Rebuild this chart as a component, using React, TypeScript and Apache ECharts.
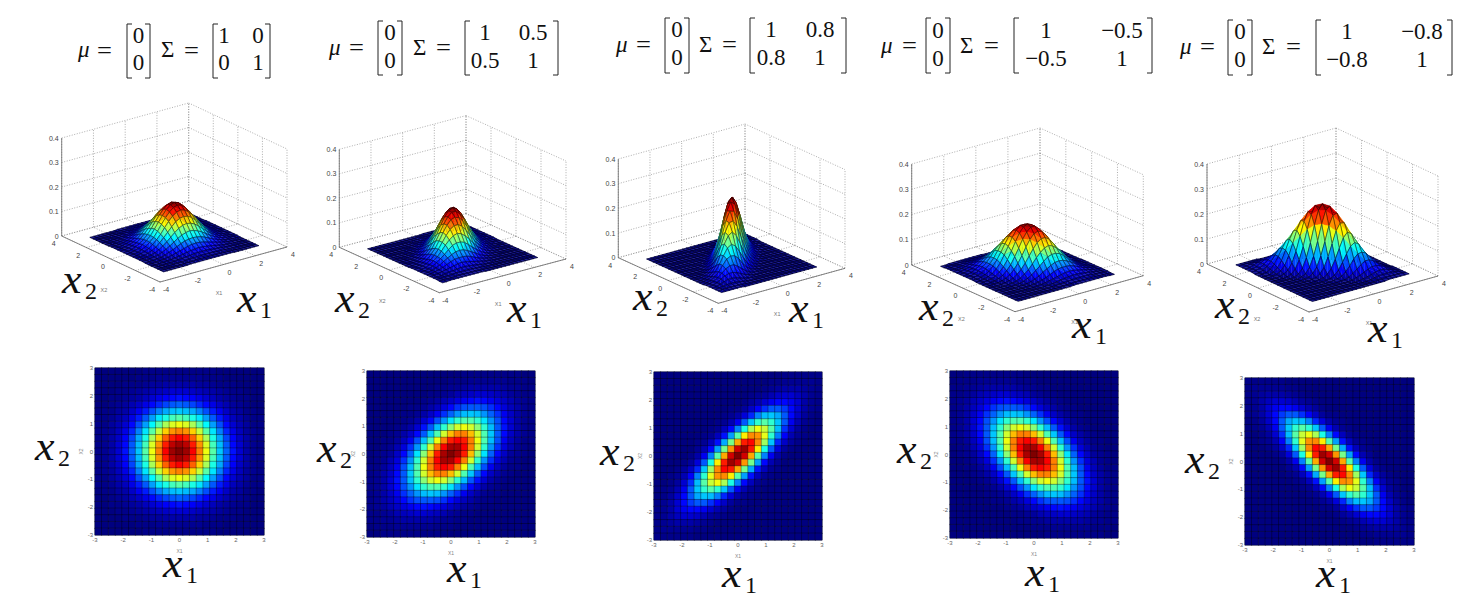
import React, { useEffect, useRef } from "react";
import * as echarts from "echarts";

// Read values: percent of each panel's peak density, rows from x2 = 3 (top) to x2 = -3, columns x1 = -3 .. 3
const DENSITY_RHO_0 = [
[0,0,0,0,0,0,0,1,1,1,1,1,1,1,1,1,1,1,0,0,0,0,0,0,0],
[0,0,0,0,0,0,1,1,1,2,2,2,2,2,2,2,1,1,1,0,0,0,0,0,0],
[0,0,0,0,1,1,1,2,3,3,4,4,4,4,4,3,3,2,1,1,1,0,0,0,0],
[0,0,0,1,1,2,3,4,5,6,7,8,8,8,7,6,5,4,3,2,1,1,0,0,0],
[0,0,1,1,2,3,4,6,8,10,12,13,14,13,12,10,8,6,4,3,2,1,1,0,0],
[0,0,1,2,3,5,7,10,13,16,19,21,22,21,19,16,13,10,7,5,3,2,1,0,0],
[0,1,1,3,4,7,11,15,20,25,29,31,32,31,29,25,20,15,11,7,4,3,1,1,0],
[1,1,2,4,6,10,15,21,28,35,40,44,46,44,40,35,28,21,15,10,6,4,2,1,1],
[1,1,3,5,8,13,20,28,37,46,54,59,61,59,54,46,37,28,20,13,8,5,3,1,1],
[1,2,3,6,10,16,25,35,46,57,67,73,75,73,67,57,46,35,25,16,10,6,3,2,1],
[1,2,4,7,12,19,29,40,54,67,78,85,88,85,78,67,54,40,29,19,12,7,4,2,1],
[1,2,4,8,13,21,31,44,59,73,85,94,97,94,85,73,59,44,31,21,13,8,4,2,1],
[1,2,4,8,14,22,32,46,61,75,88,97,100,97,88,75,61,46,32,22,14,8,4,2,1],
[1,2,4,8,13,21,31,44,59,73,85,94,97,94,85,73,59,44,31,21,13,8,4,2,1],
[1,2,4,7,12,19,29,40,54,67,78,85,88,85,78,67,54,40,29,19,12,7,4,2,1],
[1,2,3,6,10,16,25,35,46,57,67,73,75,73,67,57,46,35,25,16,10,6,3,2,1],
[1,1,3,5,8,13,20,28,37,46,54,59,61,59,54,46,37,28,20,13,8,5,3,1,1],
[1,1,2,4,6,10,15,21,28,35,40,44,46,44,40,35,28,21,15,10,6,4,2,1,1],
[0,1,1,3,4,7,11,15,20,25,29,31,32,31,29,25,20,15,11,7,4,3,1,1,0],
[0,0,1,2,3,5,7,10,13,16,19,21,22,21,19,16,13,10,7,5,3,2,1,0,0],
[0,0,1,1,2,3,4,6,8,10,12,13,14,13,12,10,8,6,4,3,2,1,1,0,0],
[0,0,0,1,1,2,3,4,5,6,7,8,8,8,7,6,5,4,3,2,1,1,0,0,0],
[0,0,0,0,1,1,1,2,3,3,4,4,4,4,4,3,3,2,1,1,1,0,0,0,0],
[0,0,0,0,0,0,1,1,1,2,2,2,2,2,2,2,1,1,1,0,0,0,0,0,0],
[0,0,0,0,0,0,0,1,1,1,1,1,1,1,1,1,1,1,0,0,0,0,0,0,0],
];
const DENSITY_RHO_P5 = [
[0,0,0,0,0,0,0,0,0,0,0,0,0,0,1,1,1,1,1,1,1,1,1,0,0],
[0,0,0,0,0,0,0,0,0,0,0,0,1,1,1,2,2,2,2,2,2,1,1,1,0],
[0,0,0,0,0,0,0,0,0,0,1,1,2,2,3,4,4,4,4,4,3,2,2,1,1],
[0,0,0,0,0,0,0,0,0,1,1,2,3,5,6,7,8,8,7,6,5,3,2,1,1],
[0,0,0,0,0,0,0,0,1,2,3,5,7,9,11,13,14,13,11,9,7,5,3,2,1],
[0,0,0,0,0,0,1,1,2,4,6,9,13,17,20,21,21,20,17,13,9,6,4,2,1],
[0,0,0,0,0,1,1,2,4,7,11,17,22,27,31,32,31,27,22,17,11,7,4,2,1],
[0,0,0,0,0,1,2,4,8,13,20,27,35,42,45,45,42,35,27,20,13,8,4,2,1],
[0,0,0,0,1,2,4,8,14,21,31,42,51,58,61,58,51,42,31,21,14,8,4,2,1],
[0,0,0,1,2,4,7,13,21,32,45,58,69,75,75,69,58,45,32,21,13,7,4,2,1],
[0,0,1,1,3,6,11,20,31,45,61,75,85,88,85,75,61,45,31,20,11,6,3,1,1],
[0,0,1,2,5,9,17,27,42,58,75,88,96,96,88,75,58,42,27,17,9,5,2,1,0],
[0,1,2,3,7,13,22,35,51,69,85,96,100,96,85,69,51,35,22,13,7,3,2,1,0],
[0,1,2,5,9,17,27,42,58,75,88,96,96,88,75,58,42,27,17,9,5,2,1,0,0],
[1,1,3,6,11,20,31,45,61,75,85,88,85,75,61,45,31,20,11,6,3,1,1,0,0],
[1,2,4,7,13,21,32,45,58,69,75,75,69,58,45,32,21,13,7,4,2,1,0,0,0],
[1,2,4,8,14,21,31,42,51,58,61,58,51,42,31,21,14,8,4,2,1,0,0,0,0],
[1,2,4,8,13,20,27,35,42,45,45,42,35,27,20,13,8,4,2,1,0,0,0,0,0],
[1,2,4,7,11,17,22,27,31,32,31,27,22,17,11,7,4,2,1,1,0,0,0,0,0],
[1,2,4,6,9,13,17,20,21,21,20,17,13,9,6,4,2,1,1,0,0,0,0,0,0],
[1,2,3,5,7,9,11,13,14,13,11,9,7,5,3,2,1,0,0,0,0,0,0,0,0],
[1,1,2,3,5,6,7,8,8,7,6,5,3,2,1,1,0,0,0,0,0,0,0,0,0],
[1,1,2,2,3,4,4,4,4,4,3,2,2,1,1,0,0,0,0,0,0,0,0,0,0],
[0,1,1,1,2,2,2,2,2,2,1,1,1,0,0,0,0,0,0,0,0,0,0,0,0],
[0,0,1,1,1,1,1,1,1,1,1,0,0,0,0,0,0,0,0,0,0,0,0,0,0],
];
const DENSITY_RHO_P8 = [
[0,0,0,0,0,0,0,0,0,0,0,0,0,0,0,0,0,0,0,1,1,1,1,1,1],
[0,0,0,0,0,0,0,0,0,0,0,0,0,0,0,0,0,1,1,2,2,2,2,2,1],
[0,0,0,0,0,0,0,0,0,0,0,0,0,0,0,0,1,2,3,4,4,4,3,2,1],
[0,0,0,0,0,0,0,0,0,0,0,0,0,0,1,2,3,5,7,8,8,6,4,2,1],
[0,0,0,0,0,0,0,0,0,0,0,0,0,1,3,5,8,11,13,13,11,8,4,2,1],
[0,0,0,0,0,0,0,0,0,0,0,1,1,3,7,12,17,21,21,18,13,8,4,2,1],
[0,0,0,0,0,0,0,0,0,0,1,2,4,9,16,25,31,32,29,21,13,7,3,1,0],
[0,0,0,0,0,0,0,0,0,1,2,5,11,21,32,42,46,42,32,21,11,5,2,1,0],
[0,0,0,0,0,0,0,0,1,2,6,13,25,40,54,61,57,46,31,17,8,3,1,0,0],
[0,0,0,0,0,0,0,1,2,6,14,28,46,64,74,73,60,42,25,12,5,2,1,0,0],
[0,0,0,0,0,0,1,2,6,14,29,49,71,85,87,74,53,32,16,7,3,1,0,0,0],
[0,0,0,0,0,0,2,5,13,28,49,73,92,97,85,64,40,21,9,3,1,0,0,0,0],
[0,0,0,0,0,1,4,11,25,46,71,92,100,92,71,46,25,11,4,1,0,0,0,0,0],
[0,0,0,0,1,3,9,21,40,64,85,97,92,73,49,28,13,5,2,0,0,0,0,0,0],
[0,0,0,1,3,7,16,32,53,74,87,85,71,49,29,14,6,2,1,0,0,0,0,0,0],
[0,0,1,2,5,12,25,42,60,73,74,64,46,28,14,6,2,1,0,0,0,0,0,0,0],
[0,0,1,3,8,17,31,46,57,61,54,40,25,13,6,2,1,0,0,0,0,0,0,0,0],
[0,1,2,5,11,21,32,42,46,42,32,21,11,5,2,1,0,0,0,0,0,0,0,0,0],
[0,1,3,7,13,21,29,32,31,25,16,9,4,2,1,0,0,0,0,0,0,0,0,0,0],
[1,2,4,8,13,18,21,21,17,12,7,3,1,1,0,0,0,0,0,0,0,0,0,0,0],
[1,2,4,8,11,13,13,11,8,5,3,1,0,0,0,0,0,0,0,0,0,0,0,0,0],
[1,2,4,6,8,8,7,5,3,2,1,0,0,0,0,0,0,0,0,0,0,0,0,0,0],
[1,2,3,4,4,4,3,2,1,0,0,0,0,0,0,0,0,0,0,0,0,0,0,0,0],
[1,2,2,2,2,2,1,1,0,0,0,0,0,0,0,0,0,0,0,0,0,0,0,0,0],
[1,1,1,1,1,1,0,0,0,0,0,0,0,0,0,0,0,0,0,0,0,0,0,0,0],
];
const DENSITY_RHO_M5 = [
[0,0,1,1,1,1,1,1,1,1,1,0,0,0,0,0,0,0,0,0,0,0,0,0,0],
[0,1,1,1,2,2,2,2,2,2,1,1,1,0,0,0,0,0,0,0,0,0,0,0,0],
[1,1,2,2,3,4,4,4,4,4,3,2,2,1,1,0,0,0,0,0,0,0,0,0,0],
[1,1,2,3,5,6,7,8,8,7,6,5,3,2,1,1,0,0,0,0,0,0,0,0,0],
[1,2,3,5,7,9,11,13,14,13,11,9,7,5,3,2,1,0,0,0,0,0,0,0,0],
[1,2,4,6,9,13,17,20,21,21,20,17,13,9,6,4,2,1,1,0,0,0,0,0,0],
[1,2,4,7,11,17,22,27,31,32,31,27,22,17,11,7,4,2,1,1,0,0,0,0,0],
[1,2,4,8,13,20,27,35,42,45,45,42,35,27,20,13,8,4,2,1,0,0,0,0,0],
[1,2,4,8,14,21,31,42,51,58,61,58,51,42,31,21,14,8,4,2,1,0,0,0,0],
[1,2,4,7,13,21,32,45,58,69,75,75,69,58,45,32,21,13,7,4,2,1,0,0,0],
[1,1,3,6,11,20,31,45,61,75,85,88,85,75,61,45,31,20,11,6,3,1,1,0,0],
[0,1,2,5,9,17,27,42,58,75,88,96,96,88,75,58,42,27,17,9,5,2,1,0,0],
[0,1,2,3,7,13,22,35,51,69,85,96,100,96,85,69,51,35,22,13,7,3,2,1,0],
[0,0,1,2,5,9,17,27,42,58,75,88,96,96,88,75,58,42,27,17,9,5,2,1,0],
[0,0,1,1,3,6,11,20,31,45,61,75,85,88,85,75,61,45,31,20,11,6,3,1,1],
[0,0,0,1,2,4,7,13,21,32,45,58,69,75,75,69,58,45,32,21,13,7,4,2,1],
[0,0,0,0,1,2,4,8,14,21,31,42,51,58,61,58,51,42,31,21,14,8,4,2,1],
[0,0,0,0,0,1,2,4,8,13,20,27,35,42,45,45,42,35,27,20,13,8,4,2,1],
[0,0,0,0,0,1,1,2,4,7,11,17,22,27,31,32,31,27,22,17,11,7,4,2,1],
[0,0,0,0,0,0,1,1,2,4,6,9,13,17,20,21,21,20,17,13,9,6,4,2,1],
[0,0,0,0,0,0,0,0,1,2,3,5,7,9,11,13,14,13,11,9,7,5,3,2,1],
[0,0,0,0,0,0,0,0,0,1,1,2,3,5,6,7,8,8,7,6,5,3,2,1,1],
[0,0,0,0,0,0,0,0,0,0,1,1,2,2,3,4,4,4,4,4,3,2,2,1,1],
[0,0,0,0,0,0,0,0,0,0,0,0,1,1,1,2,2,2,2,2,2,1,1,1,0],
[0,0,0,0,0,0,0,0,0,0,0,0,0,0,1,1,1,1,1,1,1,1,1,0,0],
];
const DENSITY_RHO_M8 = [
[1,1,1,1,1,1,0,0,0,0,0,0,0,0,0,0,0,0,0,0,0,0,0,0,0],
[1,2,2,2,2,2,1,1,0,0,0,0,0,0,0,0,0,0,0,0,0,0,0,0,0],
[1,2,3,4,4,4,3,2,1,0,0,0,0,0,0,0,0,0,0,0,0,0,0,0,0],
[1,2,4,6,8,8,7,5,3,2,1,0,0,0,0,0,0,0,0,0,0,0,0,0,0],
[1,2,4,8,11,13,13,11,8,5,3,1,0,0,0,0,0,0,0,0,0,0,0,0,0],
[1,2,4,8,13,18,21,21,17,12,7,3,1,1,0,0,0,0,0,0,0,0,0,0,0],
[0,1,3,7,13,21,29,32,31,25,16,9,4,2,1,0,0,0,0,0,0,0,0,0,0],
[0,1,2,5,11,21,32,42,46,42,32,21,11,5,2,1,0,0,0,0,0,0,0,0,0],
[0,0,1,3,8,17,31,46,57,61,54,40,25,13,6,2,1,0,0,0,0,0,0,0,0],
[0,0,1,2,5,12,25,42,60,73,74,64,46,28,14,6,2,1,0,0,0,0,0,0,0],
[0,0,0,1,3,7,16,32,53,74,87,85,71,49,29,14,6,2,1,0,0,0,0,0,0],
[0,0,0,0,1,3,9,21,40,64,85,97,92,73,49,28,13,5,2,0,0,0,0,0,0],
[0,0,0,0,0,1,4,11,25,46,71,92,100,92,71,46,25,11,4,1,0,0,0,0,0],
[0,0,0,0,0,0,2,5,13,28,49,73,92,97,85,64,40,21,9,3,1,0,0,0,0],
[0,0,0,0,0,0,1,2,6,14,29,49,71,85,87,74,53,32,16,7,3,1,0,0,0],
[0,0,0,0,0,0,0,1,2,6,14,28,46,64,74,73,60,42,25,12,5,2,1,0,0],
[0,0,0,0,0,0,0,0,1,2,6,13,25,40,54,61,57,46,31,17,8,3,1,0,0],
[0,0,0,0,0,0,0,0,0,1,2,5,11,21,32,42,46,42,32,21,11,5,2,1,0],
[0,0,0,0,0,0,0,0,0,0,1,2,4,9,16,25,31,32,29,21,13,7,3,1,0],
[0,0,0,0,0,0,0,0,0,0,0,1,1,3,7,12,17,21,21,18,13,8,4,2,1],
[0,0,0,0,0,0,0,0,0,0,0,0,0,1,3,5,8,11,13,13,11,8,4,2,1],
[0,0,0,0,0,0,0,0,0,0,0,0,0,0,1,2,3,5,7,8,8,6,4,2,1],
[0,0,0,0,0,0,0,0,0,0,0,0,0,0,0,0,1,2,3,4,4,4,3,2,1],
[0,0,0,0,0,0,0,0,0,0,0,0,0,0,0,0,0,1,1,2,2,2,2,2,1],
[0,0,0,0,0,0,0,0,0,0,0,0,0,0,0,0,0,0,0,1,1,1,1,1,1],
];
const panelDensities = [DENSITY_RHO_0, DENSITY_RHO_P5, DENSITY_RHO_P8, DENSITY_RHO_M5, DENSITY_RHO_M8];
const peakDensity = [0.159, 0.184, 0.265, 0.184, 0.265];
const gridValues = ["-3","-2.75","-2.5","-2.25","-2","-1.75","-1.5","-1.25","-1","-0.75","-0.5","-0.25","0","0.25","0.5","0.75","1","1.25","1.5","1.75","2","2.25","2.5","2.75","3"];
const planeTicks = [-4, -2, 0, 2, 4];
const zTicks = [0, 0.1, 0.2, 0.3, 0.4];
const zTickLabels = ["0", "0.1", "0.2", "0.3", "0.4"];
const sigmaMatrices = [
  [["1", "0"], ["0", "1"]],
  [["1", "0.5"], ["0.5", "1"]],
  [["1", "0.8"], ["0.8", "1"]],
  [["1", "\u22120.5"], ["\u22120.5", "1"]],
  [["1", "\u22120.8"], ["\u22120.8", "1"]],
];
const muVector = ["0", "0"];

// Layout, in page pixels
const heatBoxes = [
  { l: 95, r: 264, t: 368, b: 535 },
  { l: 367, r: 535, t: 371, b: 537 },
  { l: 654, r: 822, t: 372, b: 540 },
  { l: 950, r: 1118, t: 371, b: 538 },
  { l: 1245, r: 1414, t: 378, b: 545 },
];
const boxes3d = [
  { L: [61.7, 236], F: [160, 282], R: [287, 247], zTop: 138, showX2: true, x2Dx: 0 },
  { L: [339.3, 247.3], F: [439.3, 292.7], R: [566, 259], zTop: 149.3, showX2: true, x2Dx: 0 },
  { L: [618.3, 257.7], F: [718.3, 303.3], R: [845, 268.3], zTop: 159, showX2: false, x2Dx: 0 },
  { L: [911.7, 265], F: [1015, 311.7], R: [1143.3, 275.7], zTop: 164, showX2: true, x2Dx: 5 },
  { L: [1207, 264], F: [1309, 312], R: [1438, 276], zTop: 164, showX2: true, x2Dx: 6 },
];
const formulaLayout = [
  { mu: 78, eq1: 97, lb: 127, c: 138.5, rb: 150, sig: 161, eq2: 184, lb2: 213, c1: 224, c2: 258, rb2: 270, top: 24, bot: 78, y1: 43, y2: 70 },
  { mu: 329, eq1: 349, lb: 378, c: 390, rb: 402, sig: 413, eq2: 436, lb2: 465, c1: 485, c2: 533, rb2: 558, top: 21, bot: 75, y1: 40, y2: 68 },
  { mu: 616, eq1: 636, lb: 665, c: 677, rb: 689, sig: 699, eq2: 722, lb2: 750, c1: 771, c2: 820, rb2: 846, top: 18, bot: 73, y1: 37, y2: 65 },
  { mu: 881, eq1: 902, lb: 926, c: 938, rb: 950, sig: 960, eq2: 984, lb2: 1014, c1: 1046, c2: 1122, rb2: 1152, top: 18, bot: 73, y1: 38, y2: 66 },
  { mu: 1180, eq1: 1200, lb: 1228, c: 1240, rb: 1252, sig: 1262, eq2: 1286, lb2: 1316, c1: 1347, c2: 1422, rb2: 1452, top: 20, bot: 75, y1: 39, y2: 67 },
];
const bigLabels = [
  ["2", 62, 293], ["1", 237, 312], ["2", 335, 312], ["1", 507, 322], ["2", 633, 310], ["1", 789, 322],
  ["2", 919, 320], ["1", 1072, 338], ["2", 1215, 318], ["1", 1368, 342],
  ["2", 35, 460], ["1", 163, 577], ["2", 317, 462], ["1", 447, 582], ["2", 600, 465], ["1", 722, 587],
  ["2", 897, 463], ["1", 1025, 586], ["2", 1185, 473], ["1", 1316, 587],
] as [string, number, number][];

const JET = ["#000080", "#0000ff", "#0080ff", "#00ffff", "#80ff80", "#ffff00", "#ff8000", "#ff0000", "#800000"];
const SERIF = "Liberation Serif";
const SANS = "Liberation Sans";

function emWidth(text: string) {
  let w = 0;
  for (const ch of text) w += ch === "." ? 0.25 : ch === "\u2212" ? 0.564 : 0.5;
  return w;
}

// Text is placed from its top-left corner, with base as the baseline; centred cells shift left by half their width
function textEl(x: number, base: number, text: string, size: number, opts: any = {}) {
  const left = opts.center ? x - (emWidth(text) * size) / 2 : x;
  const style: any = { text, fill: "#111", fontSize: size, fontFamily: SERIF };
  if (opts.italic) style.fontStyle = "italic";
  return { type: "text", x: left, y: base - 0.8375 * size, silent: true, z: 10, scaleX: opts.scaleX || 1, style };
}

function bracket(x: number, top: number, bot: number, dir: number) {
  return {
    type: "polyline", silent: true, z: 10,
    shape: { points: [[x + 5 * dir, top], [x, top], [x, bot], [x + 5 * dir, bot]] },
    style: { stroke: "#222", lineWidth: 1, fill: "none" },
  };
}

function buildGraphic() {
  const out: any[] = [];
  formulaLayout.forEach((f, p) => {
    const S = 23;
    const midBase = (f.y1 + f.y2) / 2 + 1;
    out.push(textEl(f.mu, midBase, "\u03bc", S, { italic: true }));
    out.push(textEl(f.eq1, midBase, "=", S, { scaleX: 1.15 }));
    out.push(bracket(f.lb, f.top, f.bot, 1), bracket(f.rb, f.top, f.bot, -1));
    out.push(textEl(f.c, f.y1, muVector[0], S, { center: true }));
    out.push(textEl(f.c, f.y2, muVector[1], S, { center: true }));
    out.push(textEl(f.sig, midBase, "\u03a3", S));
    out.push(textEl(f.eq2, midBase, "=", S, { scaleX: 1.15 }));
    out.push(bracket(f.lb2, f.top, f.bot, 1), bracket(f.rb2, f.top, f.bot, -1));
    const m = sigmaMatrices[p];
    out.push(textEl(f.c1, f.y1, m[0][0], S, { center: true }));
    out.push(textEl(f.c2, f.y1, m[0][1], S, { center: true }));
    out.push(textEl(f.c1, f.y2, m[1][0], S, { center: true }));
    out.push(textEl(f.c2, f.y2, m[1][1], S, { center: true }));
  });
  bigLabels.forEach(([sub, x, y]) => {
    out.push(textEl(x, y, "x", 40, { italic: true, scaleX: 1.1 }));
    out.push(textEl(x + 23, y + 6, sub, 24));
  });
  return out;
}

function projector(p: number) {
  const b = boxes3d[p];
  const cx = (b.L[0] + b.R[0]) / 2, cy = (b.L[1] + b.R[1]) / 2;
  const ex = [(b.R[0] - b.F[0]) / 8, (b.R[1] - b.F[1]) / 8];
  const ey = [(b.L[0] - b.F[0]) / 8, (b.L[1] - b.F[1]) / 8];
  const ez = (b.L[1] - b.zTop) / 0.4;
  return (x1: number, x2: number, z: number) => [cx + ex[0] * x1 + ey[0] * x2, cy + ex[1] * x1 + ey[1] * x2 - ez * z];
}

function frameSeries(p: number, pageGrid: number) {
  const proj = projector(p);
  const segs: number[][] = [];
  planeTicks.forEach((t) => {
    segs.push([t, -4, 0, t, 4, 0, 0], [-4, t, 0, 4, t, 0, 0]); // floor
    segs.push([t, 4, 0, t, 4, 0.4, 0], [4, t, 0, 4, t, 0.4, 0]); // wall verticals
  });
  zTicks.forEach((z) => {
    segs.push([-4, 4, z, 4, 4, z, 0], [4, 4, z, 4, -4, z, 0]); // wall horizontals
  });
  segs.push([-4, 4, 0, -4, 4, 0.4, 1], [-4, 4, 0, -4, -4, 0, 1], [-4, -4, 0, 4, -4, 0, 1]);
  return {
    type: "custom", coordinateSystem: "cartesian2d", xAxisIndex: pageGrid, yAxisIndex: pageGrid, clip: false, silent: true, z: 2,
    data: segs,
    renderItem: (_: any, api: any) => {
      const a = api.coord(proj(api.value(0), api.value(1), api.value(2)));
      const b = api.coord(proj(api.value(3), api.value(4), api.value(5)));
      const solid = api.value(6) === 1;
      return {
        type: "line", shape: { x1: a[0], y1: a[1], x2: b[0], y2: b[1] },
        style: solid ? { stroke: "#666", lineWidth: 0.8 } : { stroke: "#8a8a8a", lineWidth: 0.7, lineDash: [1, 1.6] },
      };
    },
  };
}

function surfaceSeries(p: number, pageGrid: number) {
  const proj = projector(p);
  const table = panelDensities[p];
  const peak = peakDensity[p];
  const quads: number[][] = [];
  for (let r = 0; r < 24; r++) for (let c = 0; c < 24; c++) {
    quads.push([c, r, table[r][c], table[r][c + 1], table[r + 1][c], table[r + 1][c + 1]]);
  }
  // painter's order: the far corner (x1, x2 large) first
  quads.sort((a, b) => (b[0] - b[1]) - (a[0] - a[1]));
  return {
    type: "custom", coordinateSystem: "cartesian2d", xAxisIndex: pageGrid, yAxisIndex: pageGrid, clip: false, silent: true, z: 3,
    data: quads,
    renderItem: (params: any, api: any) => {
      const c = api.value(0), r = api.value(1);
      const v00 = api.value(2), v10 = api.value(3), v01 = api.value(4), v11 = api.value(5);
      const x = (cc: number) => Number(gridValues[cc]);
      const y = (rr: number) => Number(gridValues[24 - rr]);
      const P = (cc: number, rr: number, v: number) => api.coord(proj(x(cc), y(rr), (v / 100) * peak));
      const p00 = P(c, r, v00), p10 = P(c + 1, r, v10), p01 = P(c, r + 1, v01), p11 = P(c + 1, r + 1, v11);
      // split along the higher diagonal, so a ridge stays connected; far triangle first
      const mainDiag = v00 + v11 >= v10 + v01;
      const tris = mainDiag
        ? [[p00, p10, p11, (v00 + v10 + v11) / 300], [p00, p11, p01, (v00 + v11 + v01) / 300]]
        : [[p00, p10, p01, (v00 + v10 + v01) / 300], [p10, p11, p01, (v10 + v11 + v01) / 300]];
      const children: any[] = tris.map((t: any) => {
        const col = echarts.color.lerp(t[3], JET);
        return { type: "polygon", shape: { points: [t[0], t[1], t[2]] }, style: { fill: col, stroke: col, lineWidth: 0.3 } };
      });
      children.push({
        type: "polygon", shape: { points: [p00, p10, p11, p01] },
        style: { fill: "none", stroke: "rgba(0,0,0,0.75)", lineWidth: 0.6 },
      });
      return { type: "group", z2: params.dataIndex, children };
    },
  };
}

function labelSeries(p: number, pageGrid: number) {
  const proj = projector(p);
  const items: any[] = [];
  zTicks.forEach((z, i) => items.push([-4, 4, z, -3, 0, zTickLabels[i], "right", 7]));
  planeTicks.forEach((t) => {
    items.push([-4, t, 0, -8, 7.5, String(t), "center", 7]);
    items.push([t, -4, 0, 6, 7.5, String(t), "center", 7]);
  });
  items.push([0, -4, 0, -4.5, 28.5, "X1", "center", 5.5]);
  if (boxes3d[p].showX2) items.push([-4, 0, 0, -7 + boxes3d[p].x2Dx, 31, "X2", "center", 5.5]);
  return {
    type: "custom", coordinateSystem: "cartesian2d", xAxisIndex: pageGrid, yAxisIndex: pageGrid, clip: false, silent: true, z: 4,
    dimensions: ["x1", "x2", "z", "dx", "dy", { name: "label", type: "ordinal" }, { name: "al", type: "ordinal" }, "size"],
    data: items,
    renderItem: (params: any, api: any) => {
      const it = items[params.dataIndex];
      const q = api.coord(proj(it[0], it[1], it[2]));
      return {
        type: "text",
        style: {
          x: q[0] + it[3], y: q[1] + it[4], text: it[5], fill: it[7] < 6 ? "#777" : "#444", fontSize: it[7], fontFamily: SANS,
          align: it[6], verticalAlign: "middle",
        },
      };
    },
  };
}

export default function App() {
  const ref = useRef<HTMLDivElement>(null);
  useEffect(() => {
    const chart = echarts.init(ref.current!, undefined, { renderer: "svg" });
    const grid: any[] = [];
    const xAxis: any[] = [];
    const yAxis: any[] = [];
    const series: any[] = [];
    heatBoxes.forEach((b, i) => {
      grid.push({ left: b.l, top: b.t, width: b.r - b.l, height: b.b - b.t, show: true, borderColor: "#8f96a8", borderWidth: 1, backgroundColor: "transparent" });
      const catAxis = {
        type: "category", gridIndex: i, data: gridValues, boundaryGap: true,
        axisLine: { show: false }, axisTick: { show: false }, splitLine: { show: false }, axisLabel: { show: false },
      };
      xAxis.push(catAxis);
      yAxis.push(catAxis);
      const data: number[][] = [];
      panelDensities[i].forEach((row, r) => row.forEach((v, c) => data.push([c, 24 - r, v])));
      series.push({
        type: "heatmap", xAxisIndex: i, yAxisIndex: i, data, silent: true, z: 2,
        itemStyle: { borderColor: "rgba(0,0,0,0.55)", borderWidth: 0.6 },
        emphasis: { disabled: true },
      });
    });
    const pageGrid = heatBoxes.length;
    grid.push({ left: 0, top: 0, width: 1461, height: 606, show: false });
    xAxis.push({ type: "value", gridIndex: pageGrid, min: 0, max: 1461, show: false });
    yAxis.push({ type: "value", gridIndex: pageGrid, min: 0, max: 606, inverse: true, show: false });
    // tick labels run from -3 to 3 across the full width of each heat box
    heatBoxes.forEach((_, i) => {
      const valueAxis = {
        type: "value", gridIndex: i, min: -3, max: 3, interval: 1, nameLocation: "middle",
        axisLine: { show: false }, axisTick: { show: false }, splitLine: { show: false },
        nameTextStyle: { fontSize: 5, color: "#888", fontFamily: SANS },
        axisLabel: { fontSize: 6, color: "#666", margin: 2, fontFamily: SANS, formatter: (v: number) => String(v) },
      };
      xAxis.push({ ...valueAxis, position: "bottom", name: "X1", nameGap: 13 });
      yAxis.push({ ...valueAxis, position: "left", name: "X2", nameGap: 8 });
    });
    boxes3d.forEach((_, p) => {
      series.push(frameSeries(p, pageGrid), surfaceSeries(p, pageGrid), labelSeries(p, pageGrid));
    });
    chart.setOption({
      animation: false,
      backgroundColor: "#fff",
      grid, xAxis, yAxis, series,
      visualMap: { show: false, type: "continuous", min: 0, max: 100, seriesIndex: [0, 1, 2, 3, 4], inRange: { color: JET } },
      graphic: { elements: buildGraphic() },
    });
    // also write the family as a plain attribute on each drawn text
    const applyFonts = () => {
      ref.current?.querySelectorAll("text").forEach((t) => {
        const el = t as SVGTextElement;
        const family = parseFloat(getComputedStyle(el).fontSize) >= 15 ? SERIF : SANS;
        el.setAttribute("font-family", family);
        el.style.setProperty("font-family", `"${family}"`, "important");
      });
    };
    applyFonts();
    const raf = requestAnimationFrame(applyFonts);
    return () => {
      cancelAnimationFrame(raf);
      chart.dispose();
    };
  }, []);
  return <div ref={ref} style={{ width: 1461, height: 606, margin: "-8px 0 0 -8px" }} />;
}
